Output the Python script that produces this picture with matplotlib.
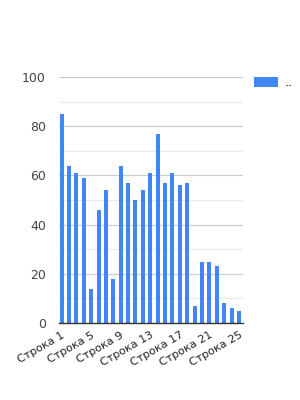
import matplotlib
matplotlib.use("Agg")
import matplotlib.pyplot as plt
from matplotlib.patches import Patch

categories = ["Строка " + str(i) for i in range(1, 26)]
values = [85, 64, 61, 59, 14, 46, 54, 18, 64, 57, 50, 54, 61, 77, 57, 61, 56, 57,
          7, 25, 25, 23, 8, 6, 5]
tick_every = 4

fig = plt.figure(figsize=(3, 4), dpi=100)
ax = fig.add_axes([0.195, 0.1925, 0.615, 0.615])

x = list(range(len(categories)))
ax.bar(x, values, width=0.54, color="#4285f4", zorder=3)

ax.set_ylim(0, 100)
ax.set_xlim(-0.42, len(categories) - 0.45)
ax.set_yticks([0, 20, 40, 60, 80, 100])
ax.set_yticks([10, 30, 50, 70, 90], minor=True)
ax.grid(axis="y", which="major", color="#cccccc", linewidth=0.8, zorder=0)
ax.grid(axis="y", which="minor", color="#ebebeb", linewidth=0.8, zorder=0)
ax.tick_params(axis="y", which="both", length=0, labelsize=9, labelcolor="#444444", pad=9)

ax.set_xticks(x[::tick_every])
ax.set_xticklabels(categories[::tick_every], rotation=30, ha="right",
                   rotation_mode="anchor", fontsize=8, color="#222222")
ax.tick_params(axis="x", length=0, pad=5)

for s in ["top", "right", "left"]:
    ax.spines[s].set_visible(False)
ax.spines["bottom"].set_color("#333333")
ax.spines["bottom"].set_linewidth(1)
ax.spines["bottom"].set_zorder(4)

legend_elements = [Patch(facecolor="#4285f4", label="..")]
fig.legend(handles=legend_elements, loc="upper left", bbox_to_anchor=(0.81, 0.838),
           frameon=False, fontsize=9, handlelength=1.9, handleheight=0.9,
           handletextpad=0.5)

fig.savefig("out.png", dpi=100)
